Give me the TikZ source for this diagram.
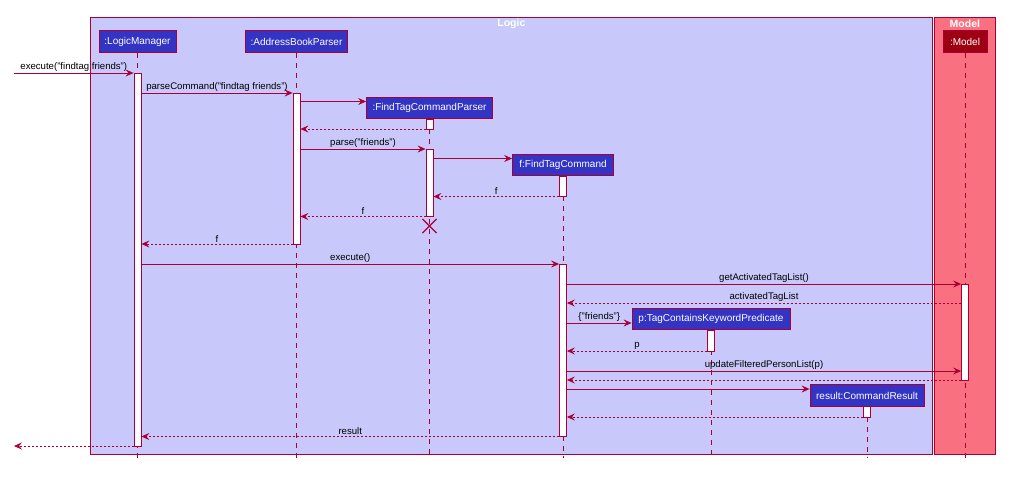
\documentclass[tikz,border=0pt]{standalone}
\usepackage{fontspec}
\setmainfont{Liberation Sans}
\usetikzlibrary{arrows.meta,shapes.misc}
\definecolor{logicC}{HTML}{3333C4}
\definecolor{logicT}{HTML}{C8C8FA}
\definecolor{modelC}{HTML}{9D0012}
\definecolor{modelT}{HTML}{F97181}
\definecolor{lineC}{HTML}{A80036}
\newcommand\actbox[4]{\node[act, anchor=north, minimum height=#4pt-#3pt] (#1) at (#2,#3) {};}
\begin{document}
\begin{tikzpicture}[x=1pt,y=-1pt,
  part/.style={draw=lineC, fill=logicC, text=white, font=\fontsize{10}{12}\selectfont, inner sep=0pt, minimum height=21.5pt, line width=0.8pt},
  act/.style={draw=lineC, fill=white, minimum width=7pt, inner sep=0pt, line width=0.8pt},
  life/.style={draw=lineC, dash pattern=on 5pt off 5pt, line width=0.6pt},
  msg/.style={draw=lineC, line width=0.7pt, -{Stealth[length=8pt,width=7pt,inset=3pt]}},
  ret/.style={msg, dash pattern=on 2pt off 2pt},
  lbl/.style={above, inner sep=1.5pt, font=\fontsize{9.6}{11}\selectfont, text=black},
  frametitle/.style={text=white, font=\fontsize{10.5}{12}\bfseries, inner sep=0pt}]
\useasboundingbox (0,0) rectangle (1021,478);
% frames
\node[draw=lineC, fill=logicT, line width=0.8pt, anchor=north west, minimum width=842pt, minimum height=437pt, inner sep=0pt] (logic) at (90,17) {};
\node[draw=lineC, fill=modelT, line width=0.8pt, anchor=north west, minimum width=61pt, minimum height=437pt, inner sep=0pt] (model) at (934,17) {};
\node[frametitle] (logicT) at ([yshift=-7pt]logic.north) {Logic};
\node[frametitle] (modelT) at ([yshift=-7pt]model.north) {Model};
% participants
\node[part, minimum width=77pt] (lm) at (137.5,41.5) {:LogicManager};
\node[part, minimum width=102pt] (abp) at (296.5,41.5) {:AddressBookParser};
\node[part, minimum width=126pt] (ftcp) at (429.5,108) {:FindTagCommandParser};
\node[part, minimum width=101pt] (ftc) at (563,165) {f:FindTagCommand};
\node[part, minimum width=158pt] (pred) at (711,319) {p:TagContainsKeywordPredicate};
\node[part, minimum width=114pt] (cr) at (867,395.5) {result:CommandResult};
\node[part, fill=modelC, minimum width=44pt] (mod) at (965,41.5) {:Model};
% lifelines
\coordinate (bot) at (0,458);
\foreach \p in {lm,abp,ftcp,ftc,pred,cr,mod}{\draw[life] (\p.south) -- (\p.south |- bot);}
% activations
\actbox{lmA}{137.5}{73}{446}
\actbox{abpA}{296.5}{93}{244}
\actbox{ftcpA1}{429.5}{119}{129}
\actbox{ftcpA2}{429.5}{149}{216.5}
\actbox{ftcA1}{563}{176}{196.5}
\actbox{ftcA2}{563}{264}{436.5}
\actbox{modA}{965}{284}{380}
\actbox{predA}{711}{330}{351}
\actbox{crA}{867}{406}{417}
\node[cross out, draw=lineC, line width=1.1pt, minimum size=13pt, inner sep=0pt] (dx) at (429.5,226) {};
% external ends
\coordinate (ext1) at (14,73);
\coordinate (ext2) at (14,446);
% messages
\draw[msg] (ext1) -- node[lbl]{execute("findtag friends")} (lmA.west |- ext1);
\draw[msg] (lmA.east |- 0,93) -- node[lbl]{parseCommand("findtag friends")} (abpA.west |- 0,93);
\draw[msg] (abpA.east |- 0,101.5) -- (ftcp.west |- 0,101.5);
\draw[ret] (ftcpA1.west |- 0,129) -- (abpA.east |- 0,129);
\draw[msg] (abpA.east |- 0,149) -- node[lbl]{parse("friends")} (ftcpA2.west |- 0,149);
\draw[msg] (ftcpA2.east |- 0,158.5) -- (ftc.west |- 0,158.5);
\draw[ret] (ftcA1.west |- 0,196.5) -- node[lbl]{f} (ftcpA2.east |- 0,196.5);
\draw[ret] (ftcpA2.west |- 0,216.5) -- node[lbl]{f} (abpA.east |- 0,216.5);
\draw[ret] (abpA.west |- 0,244) -- node[lbl]{f} (lmA.east |- 0,244);
\draw[msg] (lmA.east |- 0,264) -- node[lbl]{execute()} (ftcA2.west |- 0,264);
\draw[msg] (ftcA2.east |- 0,284) -- node[lbl]{getActivatedTagList()} (modA.west |- 0,284);
\draw[ret] (modA.west |- 0,303) -- node[lbl]{activatedTagList} (ftcA2.east |- 0,303);
\draw[msg] (ftcA2.east |- 0,323) -- node[lbl]{\{"friends"\}} (pred.west |- 0,323);
\draw[ret] (predA.west |- 0,351) -- node[lbl]{p} (ftcA2.east |- 0,351);
\draw[msg] (ftcA2.east |- 0,371) -- node[lbl]{updateFilteredPersonList(p)} (modA.west |- 0,371);
\draw[ret] (modA.west |- 0,380) -- (ftcA2.east |- 0,380);
\draw[msg] (ftcA2.east |- 0,389) -- (cr.west |- 0,389);
\draw[ret] (crA.west |- 0,417) -- (ftcA2.east |- 0,417);
\draw[ret] (ftcA2.west |- 0,436.5) -- node[lbl]{result} (lmA.east |- 0,436.5);
\draw[ret] (lmA.west |- ext2) -- (ext2);
\end{tikzpicture}
\end{document}
